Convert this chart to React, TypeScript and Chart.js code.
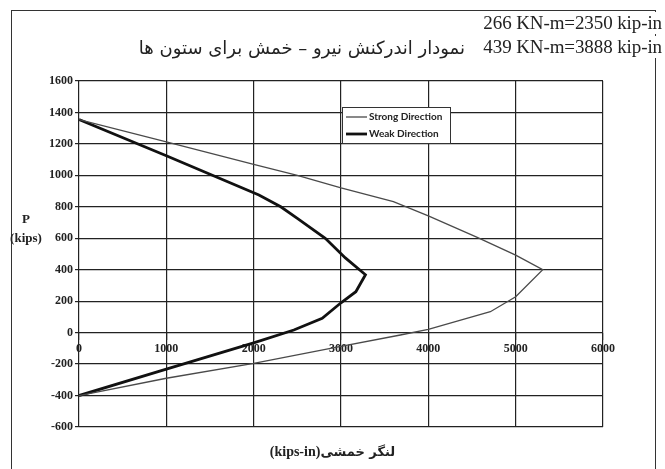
import React, { useEffect, useRef } from "react";
import { Chart, registerables } from "chart.js";

Chart.register(...registerables);

// Axis ranges / ticks
const xMin = 0;
const xMax = 6000;
const xStep = 1000;
const yMin = -600;
const yMax = 1600;
const yStep = 200;

// Strong direction (moment kips-in, axial load kips)
const strongM = [0, 1000, 2000, 2500, 3000, 3600, 4000, 4560, 5000, 5310, 5000, 4710, 4440, 4000, 3680, 2880, 2000, 1000, 0];
const strongP = [1355, 1213, 1070, 1000, 920, 833, 742, 606, 493, 400, 228, 133, 90, 20, -15, -100, -195, -290, -400];

// Weak direction
const weakM = [0, 1000, 2060, 2310, 2500, 2820, 3050, 3280, 3170, 3000, 2785, 2460, 2000, 1000, 0];
const weakP = [1355, 1125, 875, 800, 727, 600, 475, 368, 260, 190, 91, 17, -65, -232, -400];

const seriesNames = ["Strong Direction", "Weak Direction"];

const titleLine1 = "266 KN-m=2350 kip-in";
const titleLine2en = "439 KN-m=3888 kip-in";
const titleLine2fa = "نمودار اندرکنش نیرو – خمش برای ستون ها";
const yTitle1 = "P";
const yTitle2 = "(kips)";
const xTitleEn = "(kips-in)";
const xTitleFa = "لنگر خمشی";

const toPts = (xs: number[], ys: number[]) => xs.map((x, i) => ({ x, y: ys[i] }));

const legendPlugin = {
  id: "boxLegend",
  afterDraw(chart: any) {
    const ctx = chart.ctx;
    const ca = chart.chartArea;
    const left = ca.left + 263;
    const top = ca.top + 26;
    const w = 108;
    const h = 36;
    ctx.save();
    ctx.fillStyle = "#ffffff";
    ctx.fillRect(left, top, w, h);
    ctx.strokeStyle = "#333";
    ctx.lineWidth = 1;
    ctx.strokeRect(left + 0.5, top + 0.5, w, h);
    ctx.font = "bold 10px Lato";
    ctx.textBaseline = "middle";
    chart.data.datasets.forEach((ds: any, i: number) => {
      const y = top + 10 + i * 17;
      ctx.beginPath();
      ctx.strokeStyle = ds.borderColor;
      ctx.lineWidth = ds.borderWidth;
      ctx.moveTo(left + 4, y);
      ctx.lineTo(left + 25, y);
      ctx.stroke();
      ctx.fillStyle = "#222";
      ctx.fillText(ds.label, left + 27, y);
    });
    ctx.restore();
  },
};

export default function App() {
  const ref = useRef<HTMLCanvasElement | null>(null);

  useEffect(() => {
    if (!ref.current) return;
    const tickFont = { family: "Liberation Serif", size: 12, weight: "bold" as const };
    const fmt = (v: any) => String(v);
    const chart = new Chart(ref.current, {
      type: "line",
      data: {
        datasets: [
          {
            label: seriesNames[0],
            data: toPts(strongM, strongP),
            borderColor: "#4a4a4a",
            borderWidth: 1.3,
            pointRadius: 0,
            tension: 0,
            fill: false,
          },
          {
            label: seriesNames[1],
            data: toPts(weakM, weakP),
            borderColor: "#111111",
            borderWidth: 2.8,
            pointRadius: 0,
            tension: 0,
            fill: false,
          },
        ],
      },
      options: {
        animation: false,
        responsive: false,
        maintainAspectRatio: false,
        layout: { padding: { left: 0, top: 81, right: 62, bottom: 42 } },
        plugins: { legend: { display: false }, tooltip: { enabled: false }, title: { display: false } },
        scales: {
          x: {
            type: "linear",
            position: { y: 0 } as any,
            min: xMin,
            max: xMax,
            ticks: { stepSize: xStep, font: tickFont, color: "#222", padding: 2, maxRotation: 0, callback: fmt },
            grid: { color: "#222", lineWidth: 1.2, tickLength: 7 },
            border: { display: false },
          },
          y: {
            type: "linear",
            position: "left",
            min: yMin,
            max: yMax,
            ticks: { stepSize: yStep, font: tickFont, color: "#222", padding: 2, callback: fmt },
            grid: { color: "#222", lineWidth: 1.2, tickLength: 4 },
            border: { display: false },
            afterFit: (s: any) => {
              s.width = 79;
            },
          },
        },
      },
      plugins: [legendPlugin],
    });
    return () => chart.destroy();
  }, []);

  const serif = "'Liberation Serif', 'DejaVu Serif', serif";
  return (
    <div style={{ position: "absolute", left: 0, top: 0, width: 665, height: 469, background: "#fff", overflow: "hidden" }}>
      <div
        style={{
          position: "absolute",
          left: 11,
          top: 10,
          width: 643,
          height: 470,
          borderTop: "1.5px solid #333",
          borderLeft: "1.5px solid #333",
          borderRight: "1.5px solid #333",
        }}
      />
      <canvas ref={ref} width={665} height={469} style={{ position: "absolute", left: 0, top: 0 }} />
      <div style={{ position: "absolute", right: 3, top: 12, fontFamily: serif, fontSize: 19, color: "#222", background: "#fff", whiteSpace: "nowrap", lineHeight: "22px", letterSpacing: -0.1 }}>
        {titleLine1}
      </div>
      <div style={{ position: "absolute", right: 3, top: 36, fontFamily: serif, fontSize: 19, color: "#222", background: "#fff", whiteSpace: "nowrap", lineHeight: "22px", letterSpacing: -0.1 }}>
        {titleLine2en}
      </div>
      <div dir="rtl" style={{ position: "absolute", right: 200, top: 35, fontFamily: "'DejaVu Sans', sans-serif", fontSize: 18, color: "#222", whiteSpace: "nowrap", lineHeight: "26px" }}>
        {titleLine2fa}
      </div>
      <div style={{ position: "absolute", left: 6, width: 40, top: 211, textAlign: "center", fontFamily: serif, fontWeight: "bold", fontSize: 13, color: "#222", lineHeight: "15px" }}>
        {yTitle1}
      </div>
      <div style={{ position: "absolute", left: 6, width: 40, top: 230, textAlign: "center", fontFamily: serif, fontWeight: "bold", fontSize: 13, color: "#222", lineHeight: "15px" }}>
        {yTitle2}
      </div>
      <div style={{ position: "absolute", left: 0, width: 665, top: 444, display: "flex", justifyContent: "center", alignItems: "baseline", color: "#222", whiteSpace: "nowrap", paddingLeft: 0, boxSizing: "border-box" }}>
        <span style={{ fontFamily: serif, fontWeight: "bold", fontSize: 14 }}>{xTitleEn}</span>
        <span style={{ fontFamily: "'DejaVu Sans', sans-serif", fontWeight: "bold", fontSize: 13 }}>{xTitleFa}</span>
      </div>
    </div>
  );
}
